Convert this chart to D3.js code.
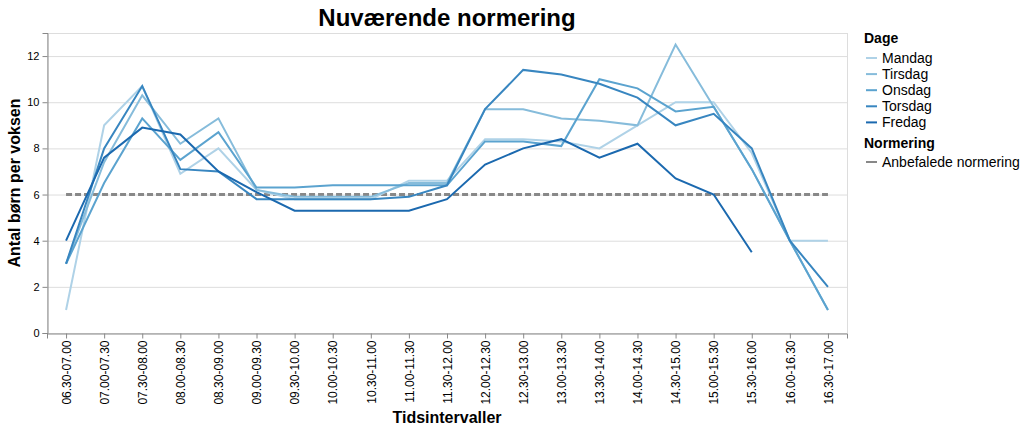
<!DOCTYPE html>
<html><head><meta charset="utf-8">
<script src="https://cdn.jsdelivr.net/npm/d3@7"></script>
<style>body{margin:0;background:#fff;font-family:"Liberation Sans",Arial,Helvetica,sans-serif;}</style>
</head><body><svg id="c" width="1025" height="430"></svg>
<script>
const categories = ["06.30-07.00","07.00-07.30","07.30-08.00","08.00-08.30","08.30-09.00","09.00-09.30","09.30-10.00","10.00-10.30","10.30-11.00","11.00-11.30","11.30-12.00","12.00-12.30","12.30-13.00","13.00-13.30","13.30-14.00","14.00-14.30","14.30-15.00","15.00-15.30","15.30-16.00","16.00-16.30","16.30-17.00"];
const days = ["Mandag","Tirsdag","Onsdag","Torsdag","Fredag"];
const mandag  = [1.0, 9.0, 10.7, 6.9, 8.0, 6.2, 5.8, 5.8, 5.8, 6.6, 6.6, 8.4, 8.4, 8.3, 8.0, 9.0, 10.0, 10.0, 7.8, 4.0, 4.0];
const tirsdag = [3.0, 7.4, 10.3, 8.2, 9.3, 6.2, 5.9, 5.9, 5.9, 6.5, 6.5, 9.7, 9.7, 9.3, 9.2, 9.0, 12.5, 9.8, 7.1, 4.0, 1.0];
const onsdag  = [3.0, 6.5, 9.3, 7.5, 8.7, 6.3, 6.3, 6.4, 6.4, 6.4, 6.4, 8.3, 8.3, 8.1, 11.0, 10.6, 9.6, 9.8, 7.1, 4.0, 1.0];
const torsdag = [3.0, 8.0, 10.7, 7.1, 7.0, 5.8, 5.8, 5.8, 5.8, 5.9, 6.4, 9.7, 11.4, 11.2, 10.8, 10.2, 9.0, 9.5, 8.0, 4.0, 2.0];
const fredag  = [4.0, 7.6, 8.9, 8.6, 7.0, 6.1, 5.3, 5.3, 5.3, 5.3, 5.8, 7.3, 8.0, 8.4, 7.6, 8.2, 6.7, 6.0, 3.5, null, null];
const normering = 6;
const normLabel = "Anbefalede normering";
const yTicks = [0,2,4,6,8,10,12];
const colors = ["#afd2e7","#86bcdb","#5ba3cf","#3886c0","#1b69af"];

const series = [mandag, tirsdag, onsdag, torsdag, fredag];
const svg = d3.select("#c");
const m = {l:47, r:847, t:33, b:333};
const x = d3.scalePoint().domain(categories).range([m.l, m.r]).padding(0.5);
const y = d3.scaleLinear().domain([0,13]).range([m.b, m.t]);

// grid
svg.append("g").selectAll("line").data(yTicks).join("line")
  .attr("x1", m.l).attr("x2", m.r).attr("y1", d=>y(d)+0.5).attr("y2", d=>y(d)+0.5)
  .attr("stroke", "#ddd");
// frame
svg.append("rect").attr("x", m.l+0.5).attr("y", m.t+0.5).attr("width", m.r-m.l).attr("height", m.b-m.t)
  .attr("fill","none").attr("stroke","#ddd");

// axes
const ya = svg.append("g").attr("transform", `translate(${m.l+0.5},0)`)
  .call(d3.axisLeft(y).tickValues(yTicks).tickSize(5).tickPadding(3));
ya.selectAll("text").attr("font-size", 11).attr("font-family","Liberation Sans, Arial, sans-serif").attr("fill","#000");
ya.selectAll("line,path").attr("stroke","#888");

const xa = svg.append("g").attr("transform", `translate(0,${m.b+0.5})`)
  .call(d3.axisBottom(x).tickSize(5).tickPadding(3));
xa.selectAll("line,path").attr("stroke","#888");
xa.selectAll(".tick text").attr("font-size", 12).attr("font-family","Liberation Sans, Arial, sans-serif").attr("fill","#000")
  .attr("transform","rotate(-90)").attr("text-anchor","end").attr("dy","0.35em")
  .attr("x", -7).attr("y", 0);

// norm line
const line = d3.line().defined(d=>d[1]!==null).x(d=>x(d[0])).y(d=>y(d[1]));
svg.append("path").datum(categories.map(c=>[c, normering]))
  .attr("d", line).attr("fill","none").attr("stroke","#888").attr("stroke-width",3).attr("stroke-dasharray","6,3");

// series
series.forEach((s,i)=>{
  svg.append("path").datum(categories.map((c,j)=>[c, s[j]]))
    .attr("d", line).attr("fill","none").attr("stroke", colors[i]).attr("stroke-width",2).attr("stroke-linejoin","miter");
});

// titles
svg.append("text").attr("x", (m.l+m.r)/2).attr("y", 26).attr("text-anchor","middle")
  .attr("font-size", 24).attr("font-weight","bold").text("Nuværende normering");
svg.append("text").attr("x", (m.l+m.r)/2).attr("y", 423).attr("text-anchor","middle")
  .attr("font-size", 16).attr("font-weight","bold").text("Tidsintervaller");
svg.append("text").attr("transform", `translate(20,${(m.t+m.b)/2}) rotate(-90)`).attr("text-anchor","middle")
  .attr("font-size", 16).attr("font-weight","bold").text("Antal børn per voksen");

// legend
const lg = svg.append("g").attr("transform","translate(866,0)");
lg.append("text").attr("x",-2).attr("y",43).attr("font-size",14).attr("font-weight","bold").text("Dage");
days.forEach((d,i)=>{
  const yy = 58 + i*16.1;
  lg.append("line").attr("x1",0).attr("x2",11).attr("y1",yy).attr("y2",yy).attr("stroke",colors[i]).attr("stroke-width",2);
  lg.append("text").attr("x",16).attr("y",yy+5).attr("font-size",14).text(d);
});
lg.append("text").attr("x",-2).attr("y",148).attr("font-size",14).attr("font-weight","bold").text("Normering");
lg.append("line").attr("x1",0).attr("x2",11).attr("y1",162).attr("y2",162).attr("stroke","#888").attr("stroke-width",2);
lg.append("text").attr("x",16).attr("y",167).attr("font-size",14).text(normLabel);
</script></body></html>
